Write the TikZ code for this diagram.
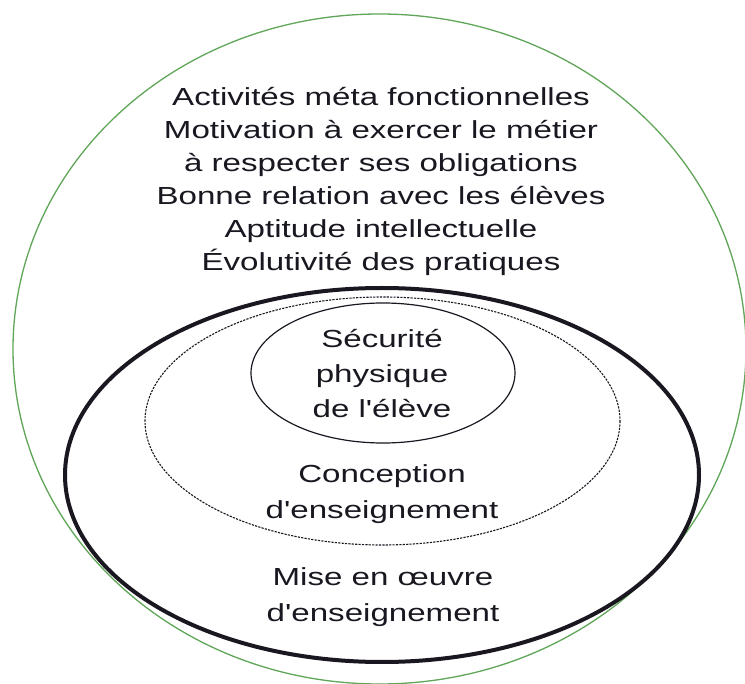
\documentclass[tikz,border=0pt]{standalone}
\usepackage{fontspec}
\newfontfamily\arial[FakeStretch=1.34]{Liberation Sans}
\definecolor{ringgreen}{RGB}{96,166,88}
\definecolor{inkcol}{RGB}{26,23,32}
\begin{document}
\begin{tikzpicture}[x=1pt,y=-1pt,
  outerring/.style={draw=ringgreen,line width=1.3pt},
  thickring/.style={draw=inkcol,line width=4pt},
  dashring/.style={draw=inkcol,line width=1.1pt,dash pattern=on 2.2pt off 1.2pt},
  innerring/.style={draw=inkcol,line width=1.2pt},
  label/.style={text=inkcol,align=center,inner sep=0pt,anchor=north,font=\arial\fontsize{24.7}{35.3}\selectfont},
  toplabel/.style={label,font=\arial\fontsize{24.7}{33.1}\selectfont}]
\useasboundingbox (0,0) rectangle (745,684);
\fill[white] (0,0) rectangle (745,684);
\draw[outerring] (379.5,349) ellipse [x radius=366.5, y radius=335];
\draw[thickring] (382,475) ellipse [x radius=317, y radius=187];
\draw[dashring] (382.5,421) ellipse [x radius=237.5, y radius=124];
\draw[innerring] (383,373) ellipse [x radius=132, y radius=70];
\node[toplabel] (outer) at (381,86.7) {Activités méta fonctionnelles\\Motivation à exercer le métier\\à respecter ses obligations\\Bonne relation avec les élèves\\Aptitude intellectuelle\\Évolutivité des pratiques};
\node[label] (secu) at (382,329) {Sécurité\\physique\\de l'élève};
\node[label] (conc) at (382,464.7) {Conception\\d'enseignement};
\node[label] (mise) at (383,567.8) {Mise en œuvre\\d'enseignement};
\end{tikzpicture}
\end{document}
